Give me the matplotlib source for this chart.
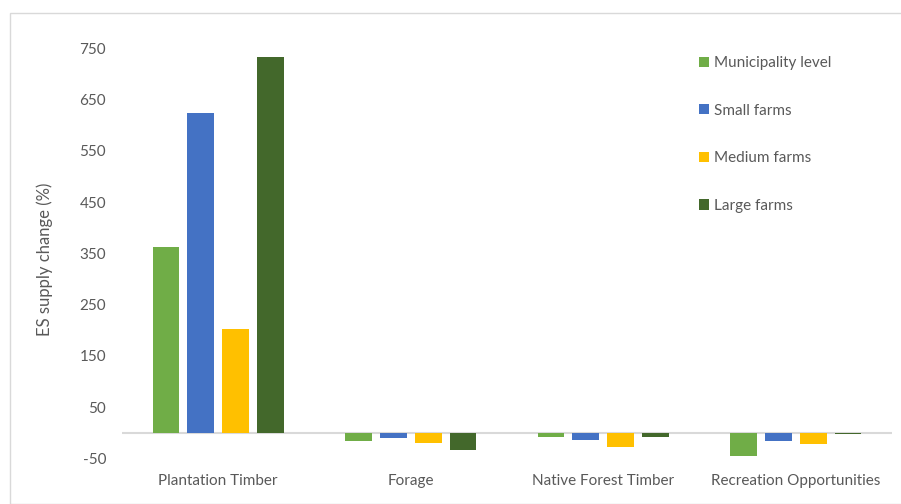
import matplotlib
matplotlib.use("Agg")
import matplotlib.pyplot as plt
from matplotlib.patches import Rectangle, Patch
import numpy as np

categories = ["Plantation Timber", "Forage", "Native Forest Timber", "Recreation Opportunities"]
series_names = ["Municipality level", "Small farms", "Medium farms", "Large farms"]
municipality = [362, -16, -9, -45]
small_farms = [624, -10, -15, -17]
medium_farms = [202, -20, -28, -23]
large_farms = [734, -34, -8, -3]
y_ticks = [-50, 50, 150, 250, 350, 450, 550, 650, 750]

colors = ["#70AD47", "#4472C4", "#FFC000", "#43682B"]
text_color = "#595959"

plt.rcParams["font.family"] = ["Lato", "DejaVu Sans"]

W, H = 901, 504
fig = plt.figure(figsize=(W / 100, H / 100), dpi=100)

# chart frame (left and top edges visible)
fig.patches.append(Rectangle((10 / W, 0), 1.2, 1 - 13 / H, transform=fig.transFigure,
                             fill=False, edgecolor="#D9D9D9", linewidth=1.0))

ax_left, ax_right = 122 / W, 892 / W
ax_top, ax_bottom = 1 - 48.3 / H, 1 - 458.3 / H
ax = fig.add_axes([ax_left, ax_bottom, ax_right - ax_left, ax_top - ax_bottom])

x = np.arange(len(categories))
width = 0.14
step = 0.181
all_series = [municipality, small_farms, medium_farms, large_farms]
for i, (vals, col, name) in enumerate(zip(all_series, colors, series_names)):
    ax.bar(x + (i - 1.5) * step, vals, width=width, color=col, label=name, zorder=2)

ax.axhline(0, color="#D9D9D9", linewidth=1.5, zorder=1)
ax.set_xlim(-0.5, len(categories) - 0.5)
ax.set_ylim(-50, 750)
ax.set_yticks(y_ticks)
ax.set_yticklabels([str(v) for v in y_ticks])
ax.set_xticks(x)
ax.set_xticklabels(categories)
ax.tick_params(axis="y", length=0, pad=11.5, labelsize=11, labelcolor=text_color)
ax.tick_params(axis="x", length=0, pad=11.5, labelsize=11, labelcolor=text_color)
for s in ax.spines.values():
    s.set_visible(False)

fig.text(45 / W, 1 - 259 / H, "ES supply change (%)", rotation=90, ha="center", va="center",
         fontsize=12, color=text_color)

handles = [Patch(facecolor=c, edgecolor="none") for c in colors]
leg = fig.legend(handles, series_names, loc="upper left",
                 bbox_to_anchor=(699 / W, 1 - 56 / H), frameon=False,
                 fontsize=11, labelcolor=text_color, handlelength=0.65,
                 handleheight=0.65, handletextpad=0.35, labelspacing=2.2,
                 borderaxespad=0, borderpad=0)

fig.savefig("out.png", dpi=100)
